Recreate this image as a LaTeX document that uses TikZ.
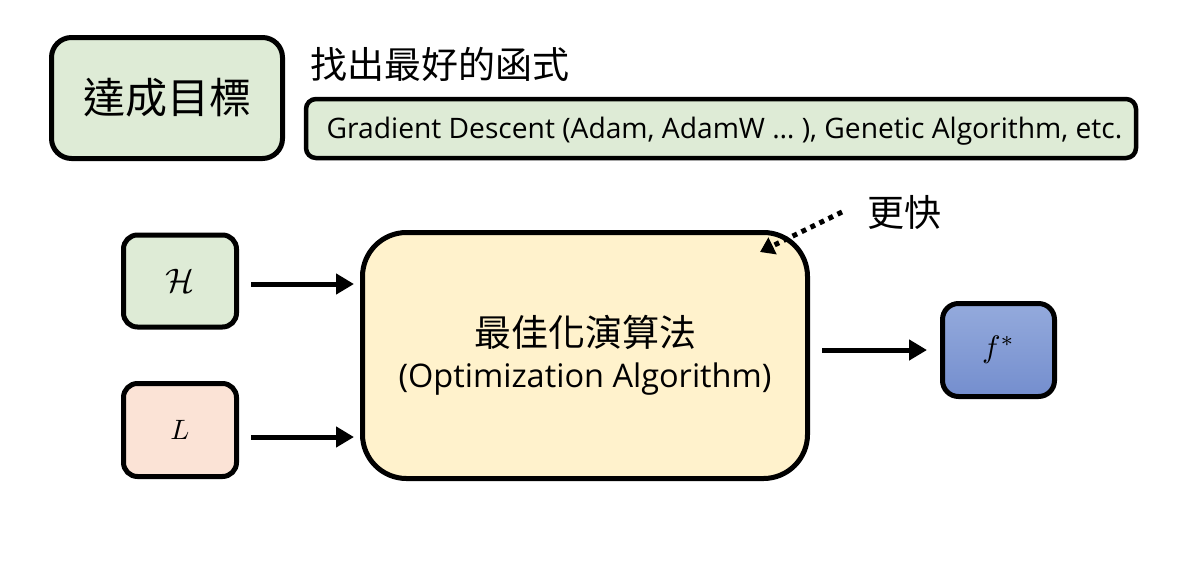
\documentclass[tikz,border=0pt]{standalone}
\usepackage{fontspec}
\usepackage{graphicx}
\setmainfont{Open Sans}
\newfontfamily\cjk{Noto Sans CJK TC}
\usetikzlibrary{arrows.meta}
\definecolor{gfill}{RGB}{222,235,214}
\definecolor{pfill}{RGB}{251,227,214}
\definecolor{yfill}{RGB}{255,242,204}
\definecolor{btop}{RGB}{148,170,220}
\definecolor{bbot}{RGB}{116,142,206}
\newcommand{\bigmath}[2]{\scalebox{#1}{$#2$}}
\begin{document}
\begin{tikzpicture}[x=1pt,y=-1pt,
  rbox/.style={draw=black, line width=5pt, inner sep=0pt, align=center},
  arr/.style={line width=5pt, -{Triangle[length=18pt,width=20pt]}},
  dotarr/.style={line width=5pt, dash pattern=on 5pt off 5pt, -{Triangle[length=14pt,width=18pt]}}
]
\useasboundingbox (0,0) rectangle (1186,582);
\fill[white] (0,0) rectangle (1186,582);

\node[rbox, fill=gfill, rounded corners=20pt, minimum width=231pt, minimum height=121pt] (goal) at (167,98)
  {\fontsize{42}{50}\selectfont\cjk 達成目標};
\node[anchor=west, inner sep=0pt] (find) at (310,64)
  {\fontsize{37}{46}\selectfont\cjk 找出最好的函式};
\node[rbox, line width=4.5pt, fill=gfill, rounded corners=10pt, minimum width=830pt, minimum height=59pt] (gd) at (721,128.5) {};
\node[inner sep=0pt] (gdtext) at (724.5,131)
  {\fontsize{28.2}{34}\selectfont Gradient Descent (Adam, AdamW … ), Genetic Algorithm, etc.};

\node[rbox, fill=gfill, rounded corners=14pt, minimum width=113pt, minimum height=92pt] (H) at (180,281)
  {\bigmath{3.4}{\mathcal{H}}};
\node[rbox, fill=pfill, rounded corners=14pt, minimum width=113pt, minimum height=93pt] (L) at (180,430)
  {\bigmath{2.8}{L}};
\node[rbox, fill=yfill, rounded corners=44pt, minimum width=445pt, minimum height=246pt] (opt) at (585,355.5)
  {\fontsize{37}{48}\selectfont\cjk 最佳化演算法\\[12pt]\fontsize{32.5}{40}\selectfont (Optimization Algorithm)};
\node[rbox, top color=btop, bottom color=bbot, rounded corners=16pt, minimum width=112pt, minimum height=93pt] (f) at (998.5,350)
  {\bigmath{3.1}{f^*}};

\node[anchor=west, inner sep=0pt] (fast) at (867,213)
  {\fontsize{37}{44}\selectfont\cjk 更快};

\draw[arr] ([xshift=12pt,yshift=-3pt]H.east) -- ([xshift=-6pt,yshift=-3pt]H.east -| opt.west);
\draw[arr] ([xshift=12pt,yshift=-7pt]L.east) -- ([xshift=-6pt,yshift=-7pt]L.east -| opt.west);
\draw[arr] ([xshift=12pt]opt.east |- f.west) -- ([xshift=-13pt]f.west);

\coordinate (dstart) at (842,212);
\draw[dotarr] (dstart) -- ([xshift=-50pt,yshift=-22pt]opt.north east);
\end{tikzpicture}
\end{document}
